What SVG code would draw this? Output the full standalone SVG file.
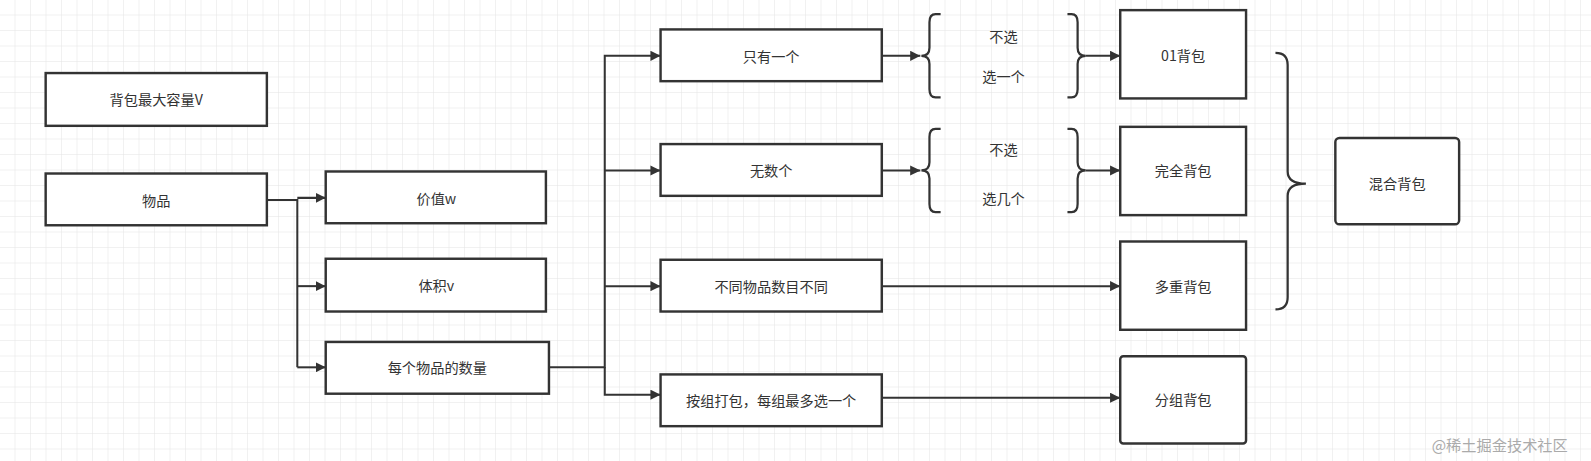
<svg xmlns="http://www.w3.org/2000/svg" width="1591" height="461" viewBox="0 0 1591 461">
<style>
.n rect{fill:#fff;stroke:#333;stroke-width:2.4}
text{font-family:"Noto Sans CJK SC","Noto Sans",sans-serif;font-size:14px;fill:#333;text-anchor:middle;dominant-baseline:central}
.c path{fill:none;stroke:#333;stroke-width:2}
.b{fill:none;stroke:#333;stroke-width:2.2}
</style>
<defs>
<pattern id="g" width="15.5" height="15.5" patternUnits="userSpaceOnUse"><path d="M15.5 0V15.5H0" fill="none" stroke="#e4e4e4" stroke-width="1"/></pattern>
<marker id="a" viewBox="0 0 10 10" refX="10" refY="5" markerWidth="5" markerHeight="5" orient="auto"><path d="M0 0L10 5L0 10z" fill="#333"/></marker>
</defs>
<rect width="1591" height="461" fill="#fff"/>
<rect width="1591" height="461" fill="url(#g)"/>
<g transform="scale(1.0147)">
<g class="c">
<path d="M263 197H293V362M293 195H321" marker-end="url(#a)"/>
<path d="M293 282H321" marker-end="url(#a)"/>
<path d="M293 362H321" marker-end="url(#a)"/>
<path d="M541 362H596V55H651" marker-end="url(#a)"/>
<path d="M596 168H651" marker-end="url(#a)"/>
<path d="M596 282H651" marker-end="url(#a)"/>
<path d="M596 362V389H651" marker-end="url(#a)"/>
<path d="M869 55H907" marker-end="url(#a)"/>
<path d="M869 168H907" marker-end="url(#a)"/>
<path d="M1070 55H1104" marker-end="url(#a)"/>
<path d="M1070 168H1104" marker-end="url(#a)"/>
<path d="M869 282H1104" marker-end="url(#a)"/>
<path d="M869 392H1104" marker-end="url(#a)"/>
</g>
<g id="n1" class="n"><rect x="45" y="72" width="218" height="52"/><text x="154" y="98">背包最大容量V</text></g>
<g id="n2" class="n"><rect x="45" y="171" width="218" height="51"/><text x="154" y="197">物品</text></g>
<g id="n3" class="n"><rect x="321" y="169" width="217" height="51"/><text x="430" y="195">价值w</text></g>
<g id="n4" class="n"><rect x="321" y="255" width="217" height="52"/><text x="430" y="281">体积v</text></g>
<g id="n5" class="n"><rect x="321" y="337" width="220" height="51"/><text x="431" y="362">每个物品的数量</text></g>
<g id="n6" class="n"><rect x="651" y="29" width="218" height="51"/><text x="760" y="55">只有一个</text></g>
<g id="n7" class="n"><rect x="651" y="142" width="218" height="51"/><text x="760" y="168">无数个</text></g>
<g id="n8" class="n"><rect x="651" y="256" width="218" height="51"/><text x="760" y="282">不同物品数目不同</text></g>
<g id="n9" class="n"><rect x="651" y="369" width="218" height="51"/><text x="760" y="394">按组打包，每组最多选一个</text></g>
<g id="b1"><path class="b" d="M927 14H922Q916 14 916 22V47Q916 55 908 55Q916 55 916 63V88Q916 96 922 96H927"/><text x="989" y="35">不选</text><text x="989" y="75">选一个</text><path class="b" d="M1052 14H1056Q1062 14 1062 22V47Q1062 55 1070 55Q1062 55 1062 63V88Q1062 96 1056 96H1052"/></g>
<g id="b2"><path class="b" d="M927 127H922Q916 127 916 135V160Q916 168 908 168Q916 168 916 176V201Q916 209 922 209H927"/><text x="989" y="147">不选</text><text x="989" y="195">选几个</text><path class="b" d="M1052 127H1056Q1062 127 1062 135V160Q1062 168 1070 168Q1062 168 1062 176V201Q1062 209 1056 209H1052"/></g>
<g id="n10" class="n"><rect x="1104" y="10" width="124" height="87"/><text x="1166" y="54">01背包</text></g>
<g id="n11" class="n"><rect x="1104" y="125" width="124" height="87"/><text x="1166" y="168">完全背包</text></g>
<g id="n12" class="n"><rect x="1104" y="238" width="124" height="87"/><text x="1166" y="282">多重背包</text></g>
<g id="n13" class="n"><rect x="1104" y="351" width="124" height="86" rx="3"/><text x="1166" y="393">分组背包</text></g>
<g id="br"><path class="b" d="M1257 52Q1269 52 1269 64V169Q1269 181 1287 181Q1269 181 1269 193V293Q1269 305 1257 305"/></g>
<g id="n14" class="n"><rect x="1316" y="136" width="122" height="85" rx="4"/><text x="1377" y="180">混合背包</text></g>
<text x="1478" y="438" style="fill:#aaa;font-size:15px">@稀土掘金技术社区</text>
</g>
</svg>
